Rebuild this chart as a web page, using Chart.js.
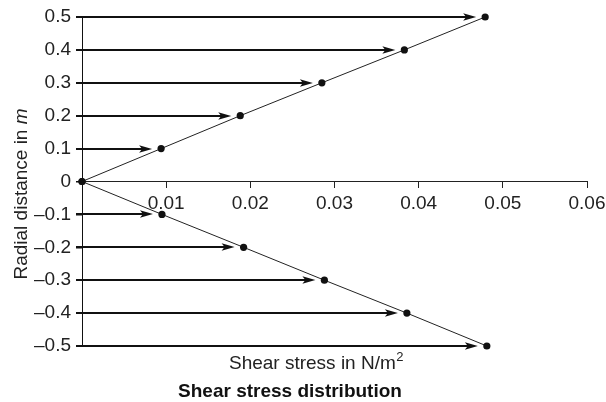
<!DOCTYPE html>
<html><head><meta charset="utf-8">
<script src="https://cdn.jsdelivr.net/npm/chart.js@4.4.1/dist/chart.umd.min.js"></script>
<style>html,body{margin:0;padding:0;background:#fff}canvas{display:block}</style>
</head><body>
<canvas id="c" width="606" height="402"></canvas>
<script>
// ---- data ----
const radialUpper = [0, 0.1, 0.2, 0.3, 0.4, 0.5];
const stressUpper = [0, 0.0094, 0.0188, 0.0285, 0.0383, 0.0479];
const radialLower = [0, -0.1, -0.2, -0.3, -0.4, -0.5];
const stressLower = [0, 0.0095, 0.0192, 0.0288, 0.0386, 0.0481];
const xTickLabels = ['', '0.01', '0.02', '0.03', '0.04', '0.05', '0.06'];
const yTickLabels = ['\u20130.5', '\u20130.4', '\u20130.3', '\u20130.2', '\u20130.1', '0', '0.1', '0.2', '0.3', '0.4', '0.5'];
const xTitle = 'Shear stress in N/m';
const xTitleSup = '2';
const yTitle = 'Radial distance in ';
const yTitleUnit = 'm';
const chartTitle = 'Shear stress distribution';

const FONT = '"Liberation Sans", Arial, Helvetica, sans-serif';

function toPoints(xs, ys) { return xs.map((v, i) => ({x: v, y: ys[i]})); }

const arrowPlugin = {
  id: 'arrows',
  afterDatasetsDraw(chart) {
    const ctx = chart.ctx, xs = chart.scales.x, ys = chart.scales.y;
    const x0 = xs.getPixelForValue(0);
    ctx.save();
    ctx.strokeStyle = '#111'; ctx.fillStyle = '#111';
    [[stressUpper, radialUpper], [stressLower, radialLower]].forEach(([sx, ry]) => {
      for (let i = 1; i < sx.length; i++) {
        const px = xs.getPixelForValue(sx[i]);
        const py = Math.round(ys.getPixelForValue(ry[i]));
        const tip = px - 9;
        ctx.lineWidth = 2;
        ctx.beginPath(); ctx.moveTo(x0 - 6, py); ctx.lineTo(tip - 8, py); ctx.stroke();
        ctx.beginPath();
        ctx.moveTo(tip, py);
        ctx.lineTo(tip - 13, py - 3.8);
        ctx.lineTo(tip - 10, py);
        ctx.lineTo(tip - 13, py + 3.8);
        ctx.closePath(); ctx.fill();
      }
    });
    ctx.restore();
  }
};

const textPlugin = {
  id: 'texts',
  afterDraw(chart) {
    const ctx = chart.ctx;
    ctx.save();
    ctx.fillStyle = '#222';
    ctx.textBaseline = 'alphabetic';
    // y title (rotated)
    ctx.font = '19px ' + FONT;
    const w1 = ctx.measureText(yTitle).width;
    ctx.font = 'italic 19px ' + FONT;
    const w2 = ctx.measureText(yTitleUnit).width;
    ctx.translate(27, 194);
    ctx.rotate(-Math.PI / 2);
    const start = -(w1 + w2) / 2;
    ctx.textAlign = 'left';
    ctx.font = '19px ' + FONT;
    ctx.fillText(yTitle, start, 0);
    ctx.font = 'italic 19px ' + FONT;
    ctx.fillText(yTitleUnit, start + w1, 0);
    ctx.setTransform(1, 0, 0, 1, 0, 0);
    // x title with superscript
    ctx.font = '19px ' + FONT;
    const wt = ctx.measureText(xTitle).width;
    ctx.font = '13px ' + FONT;
    const ws = ctx.measureText(xTitleSup).width;
    const sx = 316 - (wt + ws) / 2;
    ctx.font = '19px ' + FONT;
    ctx.fillText(xTitle, sx, 369);
    ctx.font = '13px ' + FONT;
    ctx.fillText(xTitleSup, sx + wt + 0.5, 361);
    // bold title
    ctx.font = 'bold 19px ' + FONT;
    ctx.textAlign = 'center';
    ctx.fillStyle = '#111';
    ctx.fillText(chartTitle, 290, 397);
    ctx.restore();
  }
};

const common = {
  showLine: true, borderColor: '#222', borderWidth: 1,
  pointRadius: 3.6, pointHoverRadius: 3.6,
  pointBackgroundColor: '#111', pointBorderColor: '#111', pointBorderWidth: 0,
  clip: false, tension: 0
};

new Chart(document.getElementById('c'), {
  type: 'scatter',
  data: {
    datasets: [
      Object.assign({label: 'upper', data: toPoints(stressUpper, radialUpper)}, common),
      Object.assign({label: 'lower', data: toPoints(stressLower, radialLower)}, common)
    ]
  },
  options: {
    responsive: false, animation: false,
    devicePixelRatio: 1,
    layout: {padding: {left: 0, top: 17, right: 19, bottom: 56}},
    plugins: {legend: {display: false}, tooltip: {enabled: false}, title: {display: false}},
    scales: {
      x: {
        type: 'linear', position: {y: 0}, min: 0, max: 0.06,
        ticks: {stepSize: 0.01, color: '#222', font: {family: FONT, size: 19}, padding: 5,
          maxRotation: 0, autoSkip: false,
          callback: (v, i) => xTickLabels[i]},
        grid: {drawOnChartArea: false, drawTicks: true, tickLength: 6, color: '#222', lineWidth: 1},
        border: {display: true, color: '#222', width: 1},
        afterFit: (s) => { s.paddingLeft = 0; s.paddingRight = 0; }
      },
      y: {
        type: 'linear', position: 'left', min: -0.5, max: 0.5,
        ticks: {stepSize: 0.1, color: '#222', font: {family: FONT, size: 19}, padding: 5,
          autoSkip: false, callback: (v, i) => yTickLabels[i]},
        grid: {drawOnChartArea: false, drawTicks: true, tickLength: 6, color: '#111', lineWidth: 1.5},
        border: {display: true, color: '#111', width: 1},
        afterFit: (s) => { s.width = 82; }
      }
    }
  },
  plugins: [arrowPlugin, textPlugin]
});
</script>
</body></html>
